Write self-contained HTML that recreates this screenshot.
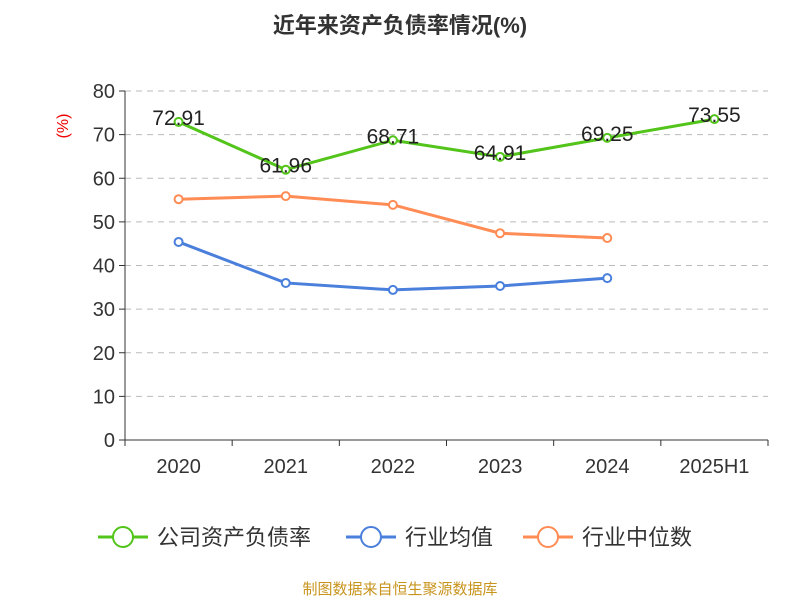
<!DOCTYPE html>
<html><head><meta charset="utf-8">
<style>
html,body{margin:0;padding:0;background:#fff;}
svg{display:block;font-family:"Liberation Sans","Noto Sans CJK SC",sans-serif;}
</style></head>
<body>
<svg id="chart" width="800" height="600" viewBox="0 0 800 600">
<text x="400" y="33" text-anchor="middle" font-size="22" font-weight="bold" fill="#333">近年来资产负债率情况(%)</text>
<text x="68" y="126" font-size="16" fill="#e00" text-anchor="middle" transform="rotate(-90 68 126)">(%)</text>
<g id="grid"></g>
<g id="axes"></g>
<g id="series"></g>
<g id="legend">
  <g>
    <line x1="98" y1="537" x2="148" y2="537" stroke="#52c41a" stroke-width="3"/>
    <circle cx="123" cy="537" r="10" fill="#fff" stroke="#52c41a" stroke-width="2"/>
    <text x="157" y="545" font-size="22" fill="#333">公司资产负债率</text>
  </g>
  <g>
    <line x1="346" y1="537" x2="396" y2="537" stroke="#4a7fdc" stroke-width="3"/>
    <circle cx="371" cy="537" r="10" fill="#fff" stroke="#4a7fdc" stroke-width="2"/>
    <text x="405" y="545" font-size="22" fill="#333">行业均值</text>
  </g>
  <g>
    <line x1="523" y1="537" x2="573" y2="537" stroke="#ff8c55" stroke-width="3"/>
    <circle cx="548" cy="537" r="10" fill="#fff" stroke="#ff8c55" stroke-width="2"/>
    <text x="582" y="545" font-size="22" fill="#333">行业中位数</text>
  </g>
</g>
<text x="400" y="594" text-anchor="middle" font-size="15" fill="#c8941e">制图数据来自恒生聚源数据库</text>
</svg>
<script>
const categories = ["2020","2021","2022","2023","2024","2025H1"];
const companyValues = [72.91,61.96,68.71,64.91,69.25,73.55];
const industryAvg = [45.4,36.0,34.4,35.3,37.1];
const industryMedian = [55.2,55.9,53.9,47.4,46.3];
const yTicks = [0,10,20,30,40,50,60,70,80];

const NS="http://www.w3.org/2000/svg";
const x0=125,x1=768,yb=440,yt=91,ymax=80;
const step=(x1-x0)/categories.length;
const xs=i=>x0+step*(i+0.5);
const ys=v=>yb-(v/ymax)*(yb-yt);
function mk(tag,attrs,parent){const e=document.createElementNS(NS,tag);for(const k in attrs)e.setAttribute(k,attrs[k]);parent.appendChild(e);return e;}
const grid=document.getElementById('grid'),axes=document.getElementById('axes'),ser=document.getElementById('series');
yTicks.forEach(t=>{
  const y=ys(t);
  if(t>0){const g=mk('line',{x1:x0,x2:x1,y1:y,y2:y,stroke:'#bbb','stroke-dasharray':'6,5'},grid);
    
    }
  mk('line',{x1:x0-6,x2:x0,y1:y,y2:y,stroke:'#333'},axes);
  const tx=mk('text',{x:x0-10,y:y+7,'text-anchor':'end','font-size':20,fill:'#333'},axes);
  tx.textContent=t;
  
  
});
mk('line',{x1:x0,x2:x0,y1:yt,y2:yb,stroke:'#333'},axes);
mk('line',{x1:x0,x2:x1,y1:yb,y2:yb,stroke:'#333'},axes);
for(let i=0;i<=categories.length;i++){const x=x0+step*i;mk('line',{x1:x,x2:x,y1:yb,y2:yb+6,stroke:'#333'},axes);}
categories.forEach((c,i)=>{
  const tx=mk('text',{x:xs(i),y:yb+33,'text-anchor':'middle','font-size':20,fill:'#333'},axes);
  tx.textContent=c;
  
  
});
function drawSeries(vals,color,name,labels){
  const pts=vals.map((v,i)=>xs(i)+','+ys(v)).join(' ');
  const pl=mk('polyline',{points:pts,fill:'none',stroke:color,'stroke-width':3},ser);
  
  
  vals.forEach((v,i)=>{
    const c=mk('circle',{cx:xs(i),cy:ys(v),r:4,fill:'#fff',stroke:color,'stroke-width':2},ser);
    
    
    if(labels){
      const t=mk('text',{x:xs(i),y:ys(v)+3,'text-anchor':'middle','font-size':21,fill:'#222'},ser);
      t.textContent=v.toFixed(2);
      
      
    }
  });
}
drawSeries(industryAvg,'#4a7fdc','industry-average',false);
drawSeries(industryMedian,'#ff8c55','industry-median',false);
drawSeries(companyValues,'#52c41a','company-debt-ratio',true);
</script>
</body></html>
